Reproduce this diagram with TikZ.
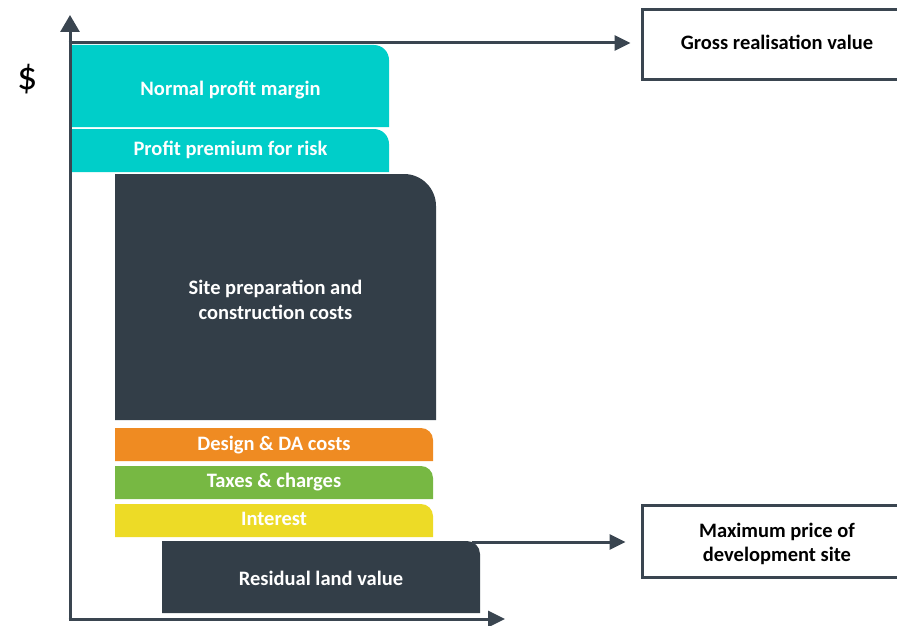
\documentclass[tikz,border=0pt]{standalone}
\usepackage{fontspec}
\setmainfont{Carlito}
\usetikzlibrary{arrows.meta}
\definecolor{cteal}{HTML}{00CEC9}
\definecolor{cdark}{HTML}{333E48}
\definecolor{corange}{HTML}{EF8B22}
\definecolor{cgreen}{HTML}{77B843}
\definecolor{cyellow}{HTML}{EDDB26}
\definecolor{caxis}{HTML}{3A4550}
\begin{document}
\begin{tikzpicture}[x=1pt, y=-1pt,
	part/.style 2 args={text=white, font=\bfseries\fontsize{20.5}{25}\selectfont, align=center, inner sep=0pt,
		path picture={\fill[#1] (path picture bounding box.south west) -- (path picture bounding box.north west)
			-- ([xshift=-#2]path picture bounding box.north east) arc[start angle=90, end angle=0, radius=#2]
			-- (path picture bounding box.south east) -- cycle;}},
	result/.style={draw=caxis, line width=3pt, minimum width=270pt, font=\bfseries\fontsize{20.5}{24}\selectfont, align=center, inner sep=0pt},
	base/.style={text height=#1, text depth=0pt},
	axis/.style={caxis, line width=3pt}]
	\useasboundingbox (0,0) rectangle (897,626);
	\node (dol) at (28,79) {\fontsize{40}{40}\selectfont\$};
	\node[part={cteal}{15pt}, base=19.4pt, minimum width=317pt, minimum height=82pt] (npm) at (230.5,86) {Normal profit margin};
	\node[part={cteal}{15pt}, base=9.6pt, minimum width=317pt, minimum height=43pt] (ppr) at (230.5,150.5) {Profit premium for risk};
	\node[part={cdark}{32pt}, base=44pt, minimum width=321pt, minimum height=246pt] (spc) at (275.5,297) {Site preparation and\\construction costs};
	\node[part={corange}{12pt}, base=12.4pt, minimum width=318pt, minimum height=33pt] (dda) at (274,444.5) {Design \& DA costs};
	\node[part={cgreen}{12pt}, base=9.6pt, minimum width=318pt, minimum height=33pt] (tax) at (274,482.5) {Taxes \& charges};
	\node[part={cyellow}{12pt}, base=9.6pt, minimum width=318pt, minimum height=33pt] (int) at (274,520.5) {Interest};
	\node[part={cdark}{13pt}, base=17.4pt, minimum width=318pt, minimum height=72pt] (rlv) at (321,577) {Residual land value};
	\node[result, base=9pt, minimum height=70pt] (grv) at (777,45) {Gross realisation value};
	\node[result, base=40pt, minimum height=72pt] (mpd) at (777,541) {Maximum price of\\development site};
	\coordinate (o) at (70,619);
	\coordinate (ytop) at (70,15);
	\coordinate (xend) at (505,619);
	\coordinate (gtop) at (68.5,43);
	\coordinate (rtop) at (472,542);
	\draw[axis, -{Triangle[length=17pt, width=19pt]}] ([yshift=1.5pt]o) -- (ytop);
	\draw[axis, -{Triangle[length=17pt, width=16pt]}] ([xshift=-1.5pt]o) -- (xend);
	\draw[axis, -{Triangle[length=16pt, width=15pt]}, shorten >=10pt] (gtop) -- (gtop -| grv.west);
	\draw[axis, -{Triangle[length=16pt, width=15pt]}, shorten >=15pt] (rtop) -- (rtop -| mpd.west);
\end{tikzpicture}
\end{document}
